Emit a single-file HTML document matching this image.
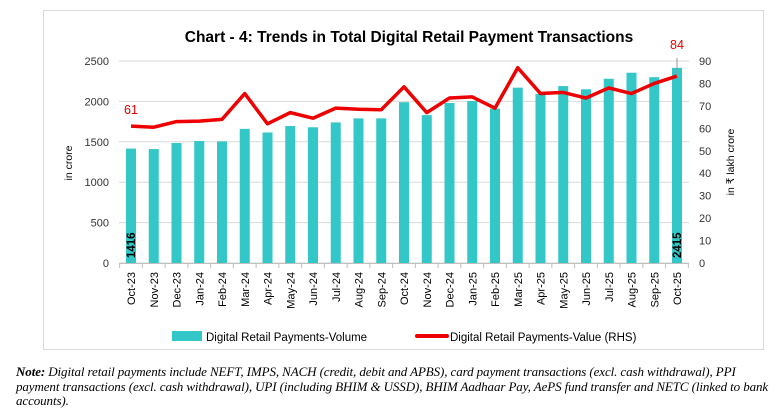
<!DOCTYPE html>
<html><head><meta charset="utf-8"><style>
body{margin:0;background:#fff;width:777px;height:411px;overflow:hidden;font-family:"Liberation Sans",sans-serif}
.note{position:absolute;left:16px;top:365px;white-space:nowrap;font-family:"Liberation Serif",serif;font-style:italic;font-size:13px;line-height:14.6px;color:#000;letter-spacing:-0.1px}
</style></head><body>
<svg id="c" width="777" height="411" style="position:absolute;left:0;top:0" xmlns="http://www.w3.org/2000/svg"></svg>
<div class="note"><b>Note:</b> Digital retail payments include NEFT, IMPS, NACH (credit, debit and APBS), card payment transactions (excl. cash withdrawal), PPI<br>payment transactions (excl. cash withdrawal), UPI (including BHIM &amp; USSD), BHIM Aadhaar Pay, AePS fund transfer and NETC (linked to bank<br>accounts).</div>
<script>
const labels=["Oct-23","Nov-23","Dec-23","Jan-24","Feb-24","Mar-24","Apr-24","May-24","Jun-24","Jul-24","Aug-24","Sep-24","Oct-24","Nov-24","Dec-24","Jan-25","Feb-25","Mar-25","Apr-25","May-25","Jun-25","Jul-25","Aug-25","Sep-25","Oct-25"];
const vol=[1416,1410,1485,1510,1505,1660,1615,1695,1680,1740,1790,1790,1990,1830,1980,2005,1910,2170,2090,2190,2150,2280,2355,2300,2415];
const val=[61,60.5,63,63.2,64,75.5,62,67,64.5,69,68.5,68.3,78.5,67,73.5,74,69,87,75.5,76,73.5,78,75.5,80,83.3];
const X=i=>131+22.75*i, YL=v=>263-v*202/2500, YR=v=>263-v*202/90;
let s='<rect x="43.5" y="10.5" width="720" height="339" fill="#fff" stroke="#d9d9d9"/>';
s+='<text x="409" y="42" text-anchor="middle" font-size="15.5" font-weight="bold" fill="#000">Chart - 4: Trends in Total Digital Retail Payment Transactions</text>';
for(let k=0;k<=5;k++){const y=YL(k*500);s+=`<line x1="119" x2="689" y1="${y}" y2="${y}" stroke="#d9d9d9"/>`;s+=`<text x="109" y="${y+4}" text-anchor="end" font-size="11" fill="#333">${k*500}</text>`;}
for(let k=0;k<=9;k++){const y=YR(k*10);s+=`<text x="699" y="${y+4}" font-size="11" fill="#333">${k*10}</text>`;}
s+='<text transform="translate(72,163) rotate(-90)" text-anchor="middle" font-size="10.5" fill="#000">in crore</text>';
s+='<text transform="translate(734,162) rotate(-90)" text-anchor="middle" font-size="10.5" fill="#000">in ₹ lakh crore</text>';
vol.forEach((v,i)=>{s+=`<rect x="${X(i)-5}" y="${YL(v)}" width="10" height="${263-YL(v)}" fill="#33c7c8"/>`;});
s+='<line x1="119" x2="689" y1="263.5" y2="263.5" stroke="#bfbfbf"/>';
for(let i=0;i<=25;i++){const x=119.6+22.75*i;s+=`<line x1="${x}" x2="${x}" y1="263" y2="268" stroke="#bfbfbf"/>`;}
labels.forEach((l,i)=>{s+=`<text transform="translate(${X(i)+4},272) rotate(-90)" text-anchor="end" font-size="11" fill="#000">${l}</text>`;});
s+='<polyline fill="none" stroke="#ee0000" stroke-width="3.5" stroke-linejoin="round" points="'+val.map((v,i)=>X(i)+','+YR(v)).join(' ')+'"/>';
s+=`<text x="131" y="114" text-anchor="middle" font-size="12.5" fill="#e00000">61</text>`;
s+=`<line x1="677" x2="677" y1="58" y2="76" stroke="#999"/>`;
s+=`<text x="677" y="49" text-anchor="middle" font-size="12.5" fill="#e00000">84</text>`;
s+=`<text transform="translate(135,258) rotate(-90)" font-size="11.5" font-weight="bold" fill="#000">1416</text>`;
s+=`<text transform="translate(681,258) rotate(-90)" font-size="11.5" font-weight="bold" fill="#000">2415</text>`;
s+='<rect x="172" y="331" width="30" height="10" fill="#33c7c8"/><text x="206" y="341" font-size="11.5" fill="#000">Digital Retail Payments-Volume</text>';
s+='<line x1="417" x2="447" y1="336" y2="336" stroke="#ee0000" stroke-width="4" stroke-linecap="round"/><text x="450" y="341" font-size="11.5" fill="#000">Digital Retail Payments-Value (RHS)</text>';
document.getElementById('c').innerHTML=s;
</script>
</body></html>
